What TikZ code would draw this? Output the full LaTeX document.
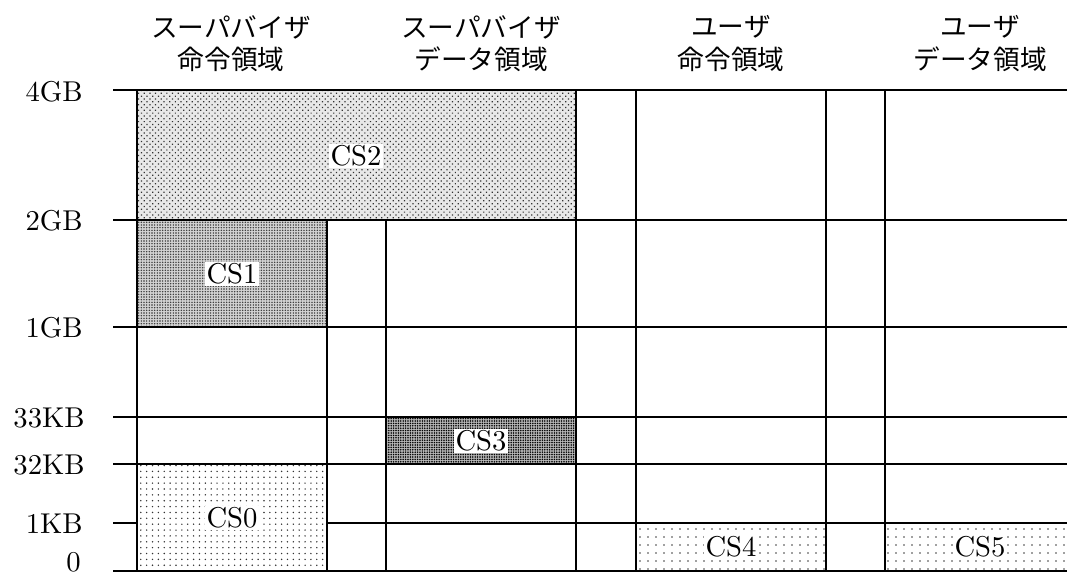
\documentclass[tikz,border=0pt]{standalone}
\usepackage{fontspec}
\usepackage{graphicx}
\newfontfamily\jpfont{Noto Sans CJK JP}
\newcommand{\numlab}[1]{\scalebox{2.15}{\fontsize{10}{12}\selectfont #1}}
\usetikzlibrary{patterns.meta}
\begin{document}
\begin{tikzpicture}[x=0.75pt,y=-0.75pt,
  grid/.style={line width=1.1pt, black},
  lab/.style={anchor=east, inner sep=0pt},
  cs/.style={fill=white, inner xsep=1.5pt, inner ysep=1.5pt},
  hdr/.style={font=\jpfont\fontsize{20}{24}\selectfont, inner sep=0pt},
  pcstwo/.style={pattern={Dots[distance=3pt, radius=0.65pt, angle=45]}, pattern color=black!80},
  pcsone/.style={pattern={Dots[distance=2pt, radius=0.6pt]}, pattern color=black!80},
  pcsthree/.style={pattern={Dots[distance=1.8pt, radius=0.65pt]}, pattern color=black},
  pcszero/.style={pattern={Dots[distance=4.4pt, radius=0.6pt]}, pattern color=black!80},
  pcsfour/.style={pattern={Dots[distance=6pt, radius=0.6pt]}, pattern color=black!75}]
\useasboundingbox (0,0) rectangle (1067,577);

% fills
\fill[gray!18] (137,90) rectangle (576,220);
\fill[pcstwo] (137,90) rectangle (576,220);
\fill[gray!35] (137,220) rectangle (327,327);
\fill[pcsone] (137,220) rectangle (327,327);
\fill[gray!55] (386,417) rectangle (576,464);
\fill[pcsthree] (386,417) rectangle (576,464);
\fill[pcszero] (137,464) rectangle (327,571);
\fill[pcsfour] (636,523) rectangle (826,571);
\fill[pcsfour] (885,523) rectangle (1067,571);

% horizontal lines
\foreach \yy in {90,220,327,417,464,571}
  \draw[grid] (113,\yy) -- (1067,\yy);
\draw[grid] (113,523) -- (137,523);
\draw[grid] (327,523) -- (1067,523);
% vertical lines
\foreach \xx in {137,576,636,826,885}
  \draw[grid] (\xx,90) -- (\xx,571);
\foreach \xx in {327,386}
  \draw[grid] (\xx,220) -- (\xx,571);

% axis labels
\node[lab] (l4g) at (83,92) {\numlab{4GB}};
\node[lab] (l2g) at (83,221) {\numlab{2GB}};
\node[lab] (l1g) at (83,328) {\numlab{1GB}};
\node[lab] (l33k) at (85,418) {\numlab{33KB}};
\node[lab] (l32k) at (85,465) {\numlab{32KB}};
\node[lab] (l1k) at (83,524) {\numlab{1KB}};
\node[lab] (l0) at (81,562) {\numlab{0}};

% region labels
\node[cs] (cs2) at (356,156) {\numlab{CS2}};
\node[cs] (cs1) at (232,274) {\numlab{CS1}};
\node[cs] (cs3) at (481,441) {\numlab{CS3}};
\node[cs] (cs0) at (232,518) {\numlab{CS0}};
\node[cs] (cs4) at (731,547) {\numlab{CS4}};
\node[cs] (cs5) at (980,547) {\numlab{CS5}};

% headers
\node[hdr] (h1a) at (231,27) {スーパバイザ};
\node[hdr] (h1b) at (231,59) {命令領域};
\node[hdr] (h2a) at (481,27) {スーパバイザ};
\node[hdr] (h2b) at (481,59) {データ領域};
\node[hdr] (h3a) at (731,27) {ユーザ};
\node[hdr] (h3b) at (731,59) {命令領域};
\node[hdr] (h4a) at (980,27) {ユーザ};
\node[hdr] (h4b) at (980,59) {データ領域};
\end{tikzpicture}
\end{document}
